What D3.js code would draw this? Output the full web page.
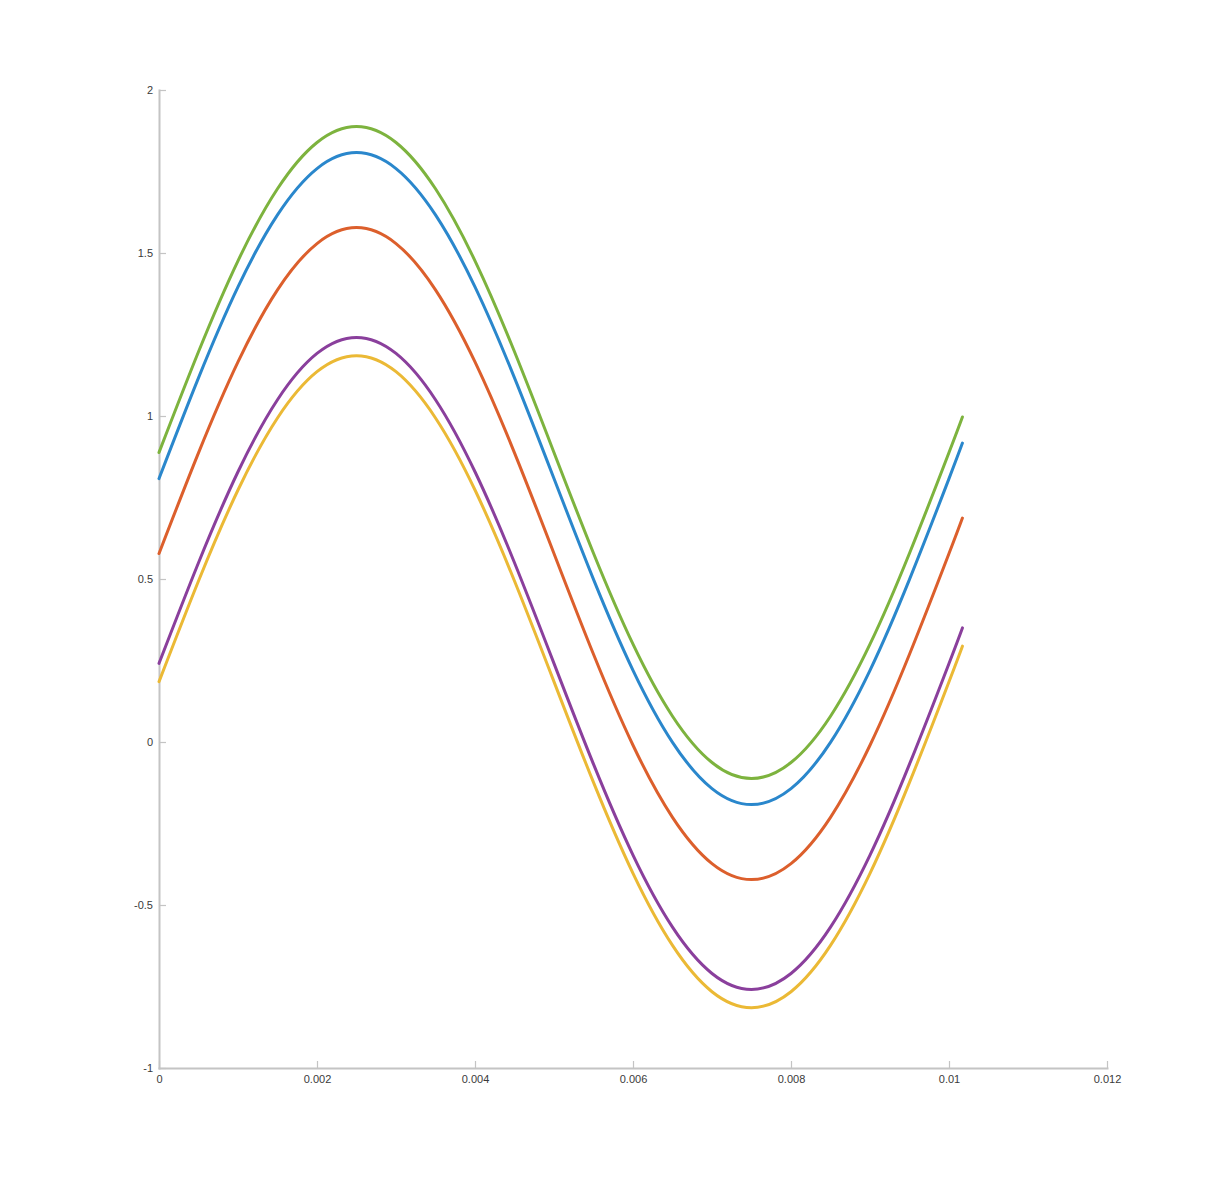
<!DOCTYPE html>
<html>
<head>
<meta charset="utf-8">
</head>
<body style="margin:0;background:#fff">
<style>
body {
  font: 11px "Liberation Sans", Arial, sans-serif;
}
.axis path, .axis line {
  stroke: #c4c4c4;
  stroke-width: 2px;
}
.axis text {
  fill: #3a3a3a;
  font-size: 11px;
}
</style>
<div class="container"></div>
<script src="https://d3js.org/d3.v7.min.js"></script>
<script>

// time samples (s), read along the x axis
var t = [0, 0.0005, 0.001, 0.0015, 0.002, 0.0025, 0.003, 0.0035, 0.004, 0.0045,
         0.005, 0.0055, 0.006, 0.0065, 0.007, 0.0075, 0.008, 0.0085, 0.009, 0.0095,
         0.01, 0.01017];

// series values, same order as t
var blue   = [0.808, 1.117, 1.396, 1.617, 1.759, 1.808, 1.759, 1.617, 1.396, 1.117,
              0.808, 0.499, 0.220, -0.001, -0.143, -0.192, -0.143, -0.001, 0.220, 0.499,
              0.808, 0.917];
var orange = [0.578, 0.887, 1.166, 1.387, 1.529, 1.578, 1.529, 1.387, 1.166, 0.887,
              0.578, 0.269, -0.010, -0.231, -0.373, -0.422, -0.373, -0.231, -0.010, 0.269,
              0.578, 0.687];
var yellow = [0.185, 0.494, 0.773, 0.994, 1.136, 1.185, 1.136, 0.994, 0.773, 0.494,
              0.185, -0.124, -0.403, -0.624, -0.766, -0.815, -0.766, -0.624, -0.403, -0.124,
              0.185, 0.294];
var purple = [0.241, 0.550, 0.829, 1.050, 1.192, 1.241, 1.192, 1.050, 0.829, 0.550,
              0.241, -0.068, -0.347, -0.568, -0.710, -0.759, -0.710, -0.568, -0.347, -0.068,
              0.241, 0.350];
var green  = [0.888, 1.197, 1.476, 1.697, 1.839, 1.888, 1.839, 1.697, 1.476, 1.197,
              0.888, 0.579, 0.300, 0.079, -0.063, -0.112, -0.063, 0.079, 0.300, 0.579,
              0.888, 0.997];

var xTicks = [0, 0.002, 0.004, 0.006, 0.008, 0.01, 0.012];
var yTicks = [-1, -0.5, 0, 0.5, 1, 1.5, 2];

var series = [
  {name: "blue",   values: blue,   color: "#2a87cc"},
  {name: "orange", values: orange, color: "#dc5f2c"},
  {name: "yellow", values: yellow, color: "#ebb935"},
  {name: "purple", values: purple, color: "#8a3f9c"},
  {name: "green",  values: green,  color: "#7db33e"}
];

var width = 1224,
    height = 1200;

var plotLeft = 159, plotRight = 1107, plotTop = 90, plotBottom = 1068;

var svg = d3.select(".container")
    .append("svg")
    .attr("width", width)
    .attr("height", height);

var x = d3.scaleLinear().domain([0, 0.012]).range([plotLeft, plotRight]);
var y = d3.scaleLinear().domain([-1, 2]).range([plotBottom, plotTop]);

// plain hyphen for negatives, like the original
var fmt = function(d) { return String(+d.toFixed(4)); };

var xAxis = d3.axisBottom(x)
    .tickValues(xTicks)
    .tickSize(-7)
    .tickSizeOuter(0)
    .tickPadding(5)
    .tickFormat(fmt);

var yAxis = d3.axisLeft(y)
    .tickValues(yTicks)
    .tickSize(-7)
    .tickSizeOuter(0)
    .tickPadding(6)
    .tickFormat(fmt);

svg.append("g")
    .attr("class", "axis")
    .attr("transform", "translate(0," + plotBottom + ")")
    .call(xAxis)
    .selectAll("text")
    .attr("dy", "0.9em");

svg.append("g")
    .attr("class", "axis")
    .attr("transform", "translate(" + plotLeft + ",0)")
    .call(yAxis);

svg.selectAll(".domain").attr("stroke-linecap", "square");
svg.selectAll(".axis .tick line").style("stroke-width", "1.2px");

var line = d3.line()
    .x(function(d, i) { return x(t[i]); })
    .y(function(d) { return y(d); })
    .curve(d3.curveNatural);

svg.selectAll(".series")
    .data(series)
    .enter()
    .append("path")
    .attr("class", "series")
    .attr("fill", "none")
    .attr("stroke", function(d) { return d.color; })
    .attr("stroke-width", 3)
    .attr("stroke-linecap", "round")
    .attr("d", function(d) { return line(d.values); });

</script>
</body>
</html>
